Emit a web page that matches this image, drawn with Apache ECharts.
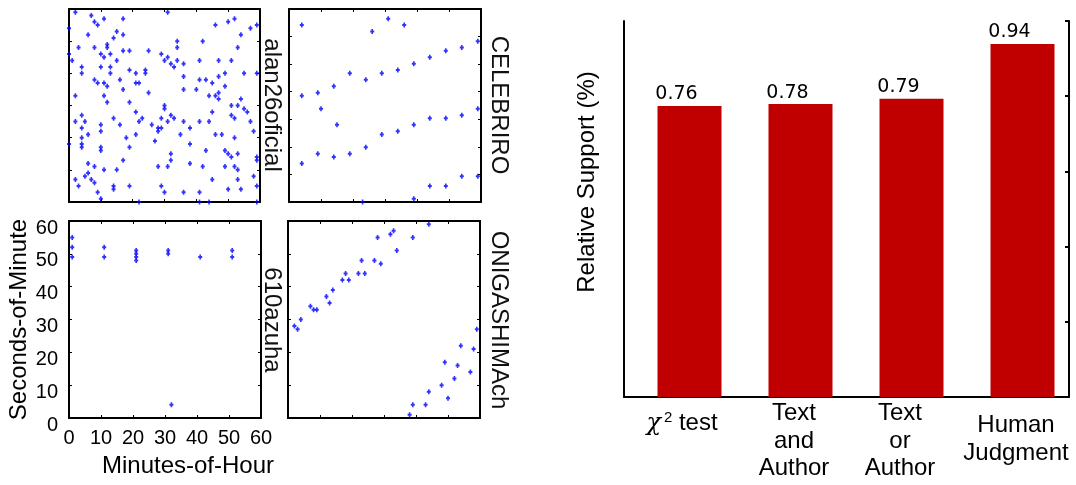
<!DOCTYPE html>
<html>
<head>
<meta charset="utf-8">
<script src="https://cdn.jsdelivr.net/npm/echarts@6/dist/echarts.min.js"></script>
<style>html,body{margin:0;padding:0;background:#fff}#c{width:1076px;height:485px}</style>
</head>
<body>
<div id="c"></div>
<script>
// ---------- data ----------
const panelNames = ['alan26oficial', 'CELEBRIRO', '610azuha', 'ONIGASHIMAch'];
const minuteTicks = [0, 10, 20, 30, 40, 50, 60];
const secondTicks = [0, 10, 20, 30, 40, 50, 60];

// [minute-of-hour, second-of-minute]
const alan26oficial = [
 [2,59],[31,59],[7,58],[11,57],[17,57],[52,57],[50,56],[8,56],[9,55],[46,55],[59,55],[57,54],[0,54],
 [15,53],[6,52],[17,52],[54,52],[14,51],[34,50],[42,50],[12,49],[3,48],[8,48],[12,48],[34,48],[53,48],
 [17,47],[19,47],[25,47],[0,46],[10,46],[13,46],[29,46],[11,45],[31,45],[30,44],[1,44],[15,44],[34,44],
 [41,44],[47,44],[51,44],[32,43],[36,43],[33,42],[4,42],[13,42],[10,42],[19,41],[24,41],[4,40],[13,40],
 [21,40],[24,40],[49,40],[55,40],[59,40],[36,39],[47,39],[8,38],[16,38],[41,38],[43,38],[9,37],[11,37],
 [21,37],[22,37],[45,37],[12,36],[49,36],[17,35],[36,35],[40,35],[25,34],[47,34],[2,33],[11,33],[44,33],
 [46,33],[47,32],[54,32],[12,31],[19,31],[30,30],[51,30],[53,30],[55,29],[30,29],[56,28],[21,28],[45,28],
 [4,27],[32,27],[51,27],[14,26],[23,26],[29,26],[33,26],[52,26],[2,25],[5,25],[22,25],[31,25],[36,25],
 [41,25],[44,25],[57,25],[10,24],[16,24],[26,24],[4,23],[28,23],[29,23],[38,23],[10,22],[28,22],[58,22],
 [6,21],[21,21],[46,21],[48,21],[4,20],[18,20],[52,20],[35,21],[27,19],[0,18],[4,18],[38,18],[4,17],
 [10,17],[19,17],[10,16],[43,16],[49,16],[50,15],[32,15],[51,14],[53,15],[59,14],[59,13],[17,13],[32,13],
 [6,12],[38,12],[8,11],[28,11],[31,11],[42,11],[49,11],[52,11],[11,10],[15,10],[53,10],[6,9],[5,8],[58,8],
 [2,7],[7,7],[45,7],[53,7],[8,6],[3,5],[14,5],[19,5],[29,5],[59,5],[14,4],[50,4],[54,4],[9,3],[30,3],
 [36,3],[41,3],[10,1],[22,0],[41,0],[44,0],[59,0]
];
const CELEBRIRO = [
 [4,55],[26,53],[31,57],[36,55],[59,50],[54,48],[49,47],[44,45],[39,43],[34,41],[29,40],[24,38],[19,40],
 [14,36],[9,34],[4,33],[10,29],[15,24],[59,29],[54,27],[49,26],[44,26],[39,24],[34,22],[29,21],[24,17],
 [19,15],[14,14],[9,15],[4,12],[59,8],[54,8],[49,5],[44,5],[39,1],[23,0]
];
const azuha610 = [
 [1,55],[1,52],[1,49],[11,52],[11,49],[21,51],[21,50],[21,49],[21,48],[31,51],[31,50],[41,49],
 [51,51],[51,49],[32,4]
];
const ONIGASHIMAch = [
 [2,28],[3,27],[4,30],[7,34],[8,33],[9,33],[12,37],[13,35],[14,39],[17,42],[18,44],[19,42],[22,44],
 [24,44],[23,48],[27,48],[29,47],[28,55],[32,56],[33,57],[34,51],[39,55],[44,59],
 [38,1],[39,4],[43,4],[44,8],[48,10],[50,6],[52,12],[53,16],[49,17],[54,22],[57,14],[58,21],[59,27]
];

const categories = ['χ2 test', 'Text\nand\nAuthor', 'Text\nor\nAuthor', 'Human\nJudgment'];
const supportValues = [0.774, 0.779, 0.793, 0.939];
const supportLabels = ['0.76', '0.78', '0.79', '0.94'];
const supportTicks = [0, 0.2, 0.4, 0.6, 0.8, 1.0];

// ---------- layout ----------
const panelData = [alan26oficial, CELEBRIRO, azuha610, ONIGASHIMAch];
const panelGrids = [
  {left: 69, top: 9, width: 191, height: 193},
  {left: 289, top: 9, width: 192, height: 193},
  {left: 69, top: 221, width: 192, height: 197},
  {left: 288, top: 221, width: 192, height: 197}
];
const yIntervals = [10, 60 / 7, 10, 10];
const labelPos = [[272, 105], [499, 105], [272, 320], [499, 320]];

const FONT = 'Liberation Sans';
const grids = panelGrids.slice();
grids.push({left: 624, top: 21, width: 445, height: 376});   // frame of bar chart
grids.push({left: 634, top: 21, width: 444, height: 376});   // bars
grids.forEach(g => { g.outerBoundsMode = 'none'; g.containLabel = false; });

const xAxes = [], yAxes = [], series = [], graphics = [];
const lineStyle = {color: '#000', width: 2};
const tickStyle = {show: true, inside: true, length: 3, lineStyle: {color: '#000', width: 1}};

panelData.forEach((d, i) => {
  const showLabels = (i === 2);
  ['bottom', 'top'].forEach((pos, k) => {
    const ax = {
      gridIndex: i, type: 'value', position: pos, min: minuteTicks[0], max: minuteTicks[minuteTicks.length - 1],
      interval: 10, axisLine: {show: true, onZero: false, lineStyle},
      axisTick: tickStyle, splitLine: {show: false},
      axisLabel: {show: showLabels && k === 0, fontFamily: FONT, fontSize: 20, color: '#000', margin: 10}
    };
    if (showLabels && k === 0) {
      ax.name = 'Minutes-of-Hour';
      ax.nameLocation = 'middle';
      ax.nameGap = 36;
      ax.nameTextStyle = {fontFamily: FONT, fontSize: 24, color: '#000', padding: [0, 0, 0, 46]};
    }
    xAxes.push(ax);
  });
  ['left', 'right'].forEach((pos, k) => {
    const ay = {
      gridIndex: i, type: 'value', position: pos, min: secondTicks[0], max: secondTicks[secondTicks.length - 1],
      interval: yIntervals[i], axisLine: {show: true, onZero: false, lineStyle},
      axisTick: tickStyle, splitLine: {show: false},
      axisLabel: {show: showLabels && k === 0, fontFamily: FONT, fontSize: 20, color: '#000', margin: 11,
        verticalAlign: 'top', lineHeight: 14}
    };
    if (showLabels && k === 0) {
      ay.name = 'Seconds-of-Minute';
      ay.nameLocation = 'middle';
      ay.nameGap = 36;
      ay.nameRotate = 90;
      ay.nameTextStyle = {fontFamily: FONT, fontSize: 24, color: '#000'};
    }
    yAxes.push(ay);
  });
  series.push({
    type: 'scatter', xAxisIndex: 2 * i, yAxisIndex: 2 * i, data: d,
    symbol: 'path://M1.5,0H3.5V1.5H5V3.5H3.5V5H1.5V3.5H0V1.5H1.5Z', symbolSize: [4, 5],
    itemStyle: {color: '#0000ff'}, silent: true, animation: false
  });
  graphics.push({
    type: 'text', x: labelPos[i][0], y: labelPos[i][1], rotation: -Math.PI / 2,
    style: {text: panelNames[i], font: '24px "' + FONT + '"', fill: '#111', align: 'center', verticalAlign: 'middle'}
  });
});

// frame axes for bar chart (index 8 for x, 8/9 for y)
xAxes.push({gridIndex: 4, type: 'value', min: 0, max: 1, axisLine: {show: true, lineStyle}, axisTick: {show: false},
  axisLabel: {show: false}, splitLine: {show: false}});
yAxes.push({gridIndex: 4, type: 'value', position: 'left', min: 0, max: 1, axisLine: {show: true, lineStyle},
  axisTick: {show: false}, axisLabel: {show: false}, splitLine: {show: false}});
yAxes.push({gridIndex: 4, type: 'value', position: 'right', min: supportTicks[0], max: supportTicks[supportTicks.length - 1],
  interval: 0.2, axisLine: {show: true, lineStyle},
  axisTick: {show: true, inside: true, length: 4, lineStyle: {color: '#000', width: 2}},
  axisLabel: {show: false}, splitLine: {show: false}});

// bars axes (x index 9, y index 10)
const catPad = [[10, 15, 0, 0], [0, 13, 0, 0], [0, 23, 0, 0], [12, 13, 0, 0]];
xAxes.push({gridIndex: 5, type: 'category',
  data: categories.map((c, i) => ({value: c, textStyle: {padding: catPad[i]}})),
  axisLine: {show: false}, axisTick: {show: false},
  axisLabel: {interval: 0, fontFamily: FONT, fontSize: 24, color: '#000', lineHeight: 27.5, margin: 3,
    verticalAlign: 'top', hideOverlap: false,
    formatter: (v, idx) => idx === 0 ? '{chi|χ}{sup|2} test' : v,
    rich: {
      chi: {fontFamily: 'DejaVu Serif', fontStyle: 'italic', fontSize: 24, color: '#000', lineHeight: 27.5},
      sup: {fontFamily: FONT, fontSize: 15, color: '#000', padding: [0, 0, 12, 3], lineHeight: 27.5}
    }}
});
yAxes.push({gridIndex: 5, type: 'value', min: 0, max: 1, show: false});

series.push({
  type: 'bar', xAxisIndex: 9, yAxisIndex: 10, data: supportValues, barWidth: 64,
  itemStyle: {color: '#c00000'}, animation: false,
  label: {show: true, position: 'top', distance: 2, offset: [-13, 0],
    fontFamily: 'DejaVu Sans', fontSize: 19, color: '#000',
    formatter: p => supportLabels[p.dataIndex]}
});

graphics.push({
  type: 'text', x: 587, y: 182, rotation: Math.PI / 2,
  style: {text: 'Relative Support (%)', font: '24px "' + FONT + '"', fill: '#000', align: 'center', verticalAlign: 'middle'}
});

const chart = echarts.init(document.getElementById('c'), null, {renderer: 'canvas'});
chart.setOption({
  animation: false,
  backgroundColor: '#fff',
  grid: grids,
  xAxis: xAxes,
  yAxis: yAxes,
  series: series,
  graphic: graphics
});
</script>
</body>
</html>
